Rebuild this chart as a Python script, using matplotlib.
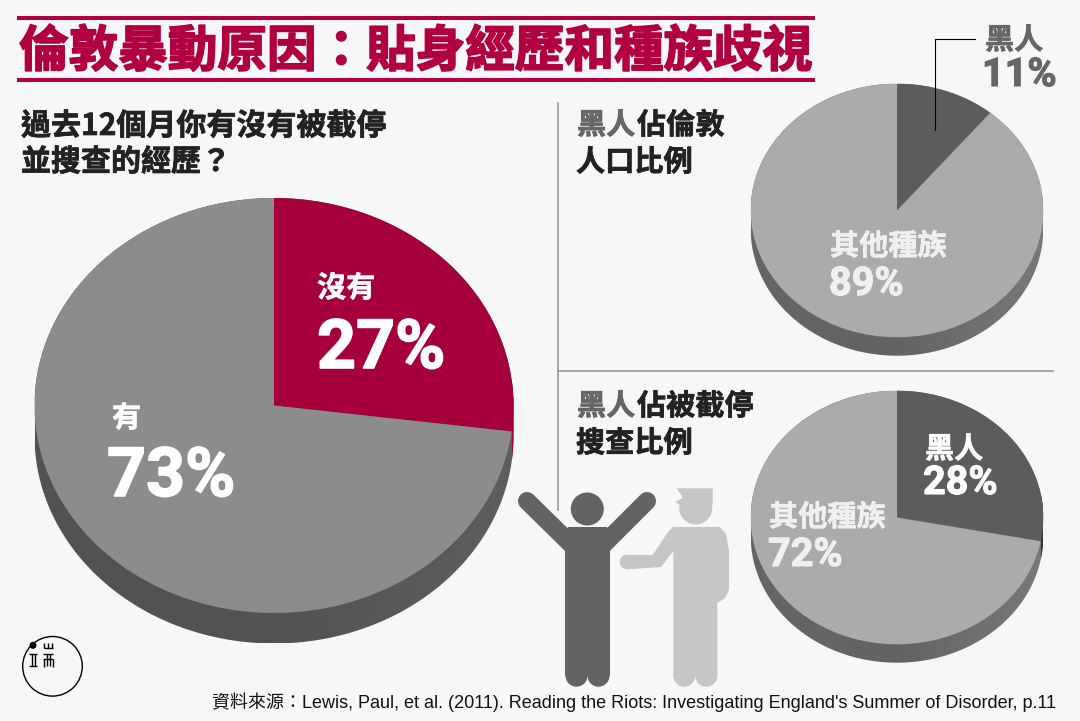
import numpy as np
import matplotlib
matplotlib.use("Agg")
import matplotlib.pyplot as plt
import matplotlib.patheffects as pe
from matplotlib.patches import Circle, Polygon, Rectangle

# =====================================================
# data
# =====================================================
stop_labels = ["沒有", "有"]
stop_values = [27, 73]

pop_labels = ["黑人", "其他種族"]
pop_values = [11, 89]

search_labels = ["黑人", "其他種族"]
search_values = [28, 72]

title = "倫敦暴動原因：貼身經歷和種族歧視"
question = ["過去12個月你有沒有被截停", "並搜查的經歷？"]
source = "資料來源：Lewis, Paul, et al. (2011). Reading the Riots: Investigating England's Summer of Disorder, p.11"

# =====================================================
# style
# =====================================================
BG = "#f7f7f7"
RED = "#b0003f"
CJK = ["Noto Sans CJK TC", "DejaVu Sans"]
NUM = "Roboto"

W, H = 1080, 721
fig = plt.figure(figsize=(W / 100, H / 100), dpi=100, facecolor=BG)


# pie squashed into an ellipse, with a drum side under it
def draw_pie(cx, cy, rx, ry, depth, values, top_colors, side_color, side_grad):
    ax = fig.add_axes([(cx - rx) / W, 1 - (cy + ry + depth) / H, 2 * rx / W, (2 * ry + depth) / H])
    d = depth / ry
    low = -1 - d

    top, _ = ax.pie(values, colors=top_colors, startangle=90, counterclock=False,
                    radius=1, wedgeprops=dict(linewidth=0))
    for w in top:
        w.set_zorder(3)

    # outline of the whole drum
    t = np.linspace(0, 2 * np.pi, 361)
    drum = np.column_stack([np.cos(t), np.sin(t) - d * (np.sin(t) < 0)])
    shape = Polygon(drum, closed=True, fc="none", ec="none", transform=ax.transData)
    ax.add_patch(shape)

    grad = np.linspace(0, 1, 256).reshape(1, -1)
    cmap = matplotlib.colors.LinearSegmentedColormap.from_list("s", side_grad)
    im = ax.imshow(grad, extent=(-1, 1, low, 1), cmap=cmap, aspect="auto", zorder=1)
    im.set_clip_path(shape)

    # first slice only shows on the side once it passes the right edge
    if values[0] > 25:
        xc = np.sin(2 * np.pi * values[0] / sum(values))
        acc = Polygon(drum, closed=True, fc=side_color, ec="none", zorder=2, transform=ax.transData)
        ax.add_patch(acc)
        acc.set_clip_path(Rectangle((xc, low), 1 - xc, 1 - low, transform=ax.transData))

    ax.set_aspect("auto")
    ax.set_xlim(-1, 1)
    ax.set_ylim(low, 1)
    ax.axis("off")
    return ax


draw_pie(274, 405.5, 239.5, 207.5, 30.5, stop_values, ["#a5003c", "#8c8c8c"],
         "#a5003c", ["#525252", "#525252", "#5e5e5e"])
draw_pie(897, 210.5, 146.3, 126.8, 18.4, pop_values, ["#5c5c5c", "#ababab"],
         "#444444", ["#666666", "#636363", "#797979"])
draw_pie(897, 517.5, 146.3, 126.8, 18.4, search_values, ["#5c5c5c", "#ababab"],
         "#333333", ["#666666", "#636363", "#797979"])

# =====================================================
# overlay in pixel coordinates
# =====================================================
ov = fig.add_axes([0, 0, 1, 1], zorder=10)
ov.set_xlim(0, W)
ov.set_ylim(H, 0)
ov.axis("off")
ov.patch.set_alpha(0)


def cjk(x, y, s, size, color="#222222", stroke=0.0, ha="left"):
    t = ov.text(x, y, s, fontsize=size, color=color, family=CJK, weight="bold",
                va="center", ha=ha)
    if stroke:
        t.set_path_effects([pe.withStroke(linewidth=stroke, foreground=color)])
    return t


def num(x, y, s, size, color="white", stroke=0.8):
    t = ov.text(x, y, s, fontsize=size, color=color, family=NUM, weight="bold",
                va="baseline", ha="left")
    t.set_path_effects([pe.withStroke(linewidth=stroke, foreground=color)])


# title between two rules
for yy in (18, 80):
    ov.plot([17.3, 815.3], [yy, yy], color=RED, lw=2.9, solid_capstyle="butt")
cjk(19, 52, title, 35.7, RED, stroke=1.2)

# questions
cjk(21, 126, question[0], 21.6, stroke=0.5)
cjk(21, 162, question[1], 21.6, stroke=0.5)

cjk(577, 125, "黑人", 21, "#666666", stroke=0.5)
cjk(637, 125, "佔倫敦", 21, stroke=0.5)
cjk(576, 162, "人口比例", 21, stroke=0.5)
cjk(577, 406, "黑人", 21, "#666666", stroke=0.5)
cjk(637, 406, "佔被截停", 21, stroke=0.5)
cjk(576, 443, "搜查比例", 21, stroke=0.5)

# big pie labels
cjk(317, 288, stop_labels[0], 21, "white", stroke=0.4)
num(317, 368, f"{stop_values[0]}%", 49, stroke=1.2)
cjk(112, 418, stop_labels[1], 21, "white", stroke=0.4)
num(107, 496, f"{stop_values[1]}%", 49, stroke=1.2)

# upper small pie
cjk(985, 40, pop_labels[0], 21, "#666666", stroke=0.4)
num(982, 86, f"{pop_values[0]}%", 28.5, "#666666")
cjk(830, 246, pop_labels[1], 21, "#f0f0f0", stroke=0.4)
num(829, 295, f"{pop_values[1]}%", 28.5, "#f0f0f0")

# lower small pie
cjk(925, 449, search_labels[0], 21, "white", stroke=0.4)
num(923, 494, f"{search_values[0]}%", 28.5)
cjk(769, 517, search_labels[1], 21, "#f0f0f0", stroke=0.4)
num(768, 566, f"{search_values[1]}%", 28.5, "#f0f0f0")

# separators and leader
ov.plot([558, 558], [103, 510], color="#999999", lw=1.2)
ov.plot([558, 1053], [371, 371], color="#999999", lw=1.2)
ov.plot([975, 934.5, 934.5], [39, 39, 130], color="black", lw=0.8)

# =====================================================
# figures
# =====================================================
MAN = "#636363"
COP = "#c6c6c6"

ov.add_patch(Circle((587.3, 509), 16.5, fc=MAN, ec="none"))
ov.plot([527, 585], [501, 558], color=MAN, lw=13, solid_capstyle="round")
ov.plot([647, 590], [501, 558], color=MAN, lw=13, solid_capstyle="round")
ov.add_patch(Polygon([(568, 527), (607, 527), (610, 540), (610, 676), (565, 676), (565, 540)],
                     fc=MAN, ec="none"))
ov.add_patch(Circle((576.5, 675.7), 11, fc=MAN, ec="none"))
ov.add_patch(Circle((598.5, 675.7), 11, fc=MAN, ec="none"))

ov.add_patch(Circle((695.7, 508), 16.5, fc=COP, ec="none"))
ov.add_patch(Polygon([(676.7, 488.3), (712.7, 488.3), (712.7, 505), (680, 505), (675, 502), (683, 498)],
                     fc=COP, ec="none"))
ov.add_patch(Polygon([(673, 527), (720, 527), (726, 534), (729, 550), (729, 590), (725, 598),
                      (717.3, 603), (717.3, 676), (673.3, 676), (673.3, 551), (661, 567),
                      (627, 569.3), (627, 555), (652.7, 555), (668, 532)],
                     fc=COP, ec="none"))
ov.add_patch(Circle((627, 562), 7.3, fc=COP, ec="none"))
ov.add_patch(Circle((684.3, 675.7), 11, fc=COP, ec="none"))
ov.add_patch(Circle((706.3, 675.7), 11, fc=COP, ec="none"))

# logo, drawn as strokes
ov.add_patch(Circle((52.5, 666.3), 29.8, fc="none", ec="black", lw=1.0))
ov.add_patch(Circle((33, 645.3), 3.5, fc="black", ec="none"))
logo = [
    ([29, 37], [654, 654]), ([29, 37], [666, 666]),
    ([31.5, 31.5], [654, 666]), ([34.5, 34.5], [654, 666]),
    ([43.5, 52.5], [648, 648]), ([44, 44], [643, 648]), ([48, 48], [643, 648]), ([52, 52], [643, 648]),
    ([43, 53], [654, 654]), ([43, 53], [659, 659]), ([44, 44], [659, 667]),
    ([47, 47], [654, 666]), ([49.5, 49.5], [654, 666]), ([52.5, 52.5], [659, 667]),
]
for xs, ys in logo:
    ov.plot(xs, ys, color="black", lw=1.0, solid_capstyle="butt")

# source
ov.text(1056, 708, source, fontsize=12.95, color="#111111", ha="right", va="baseline",
        family=["Liberation Sans", "Noto Sans CJK TC"])

fig.savefig("out.png", dpi=100, facecolor=BG)
